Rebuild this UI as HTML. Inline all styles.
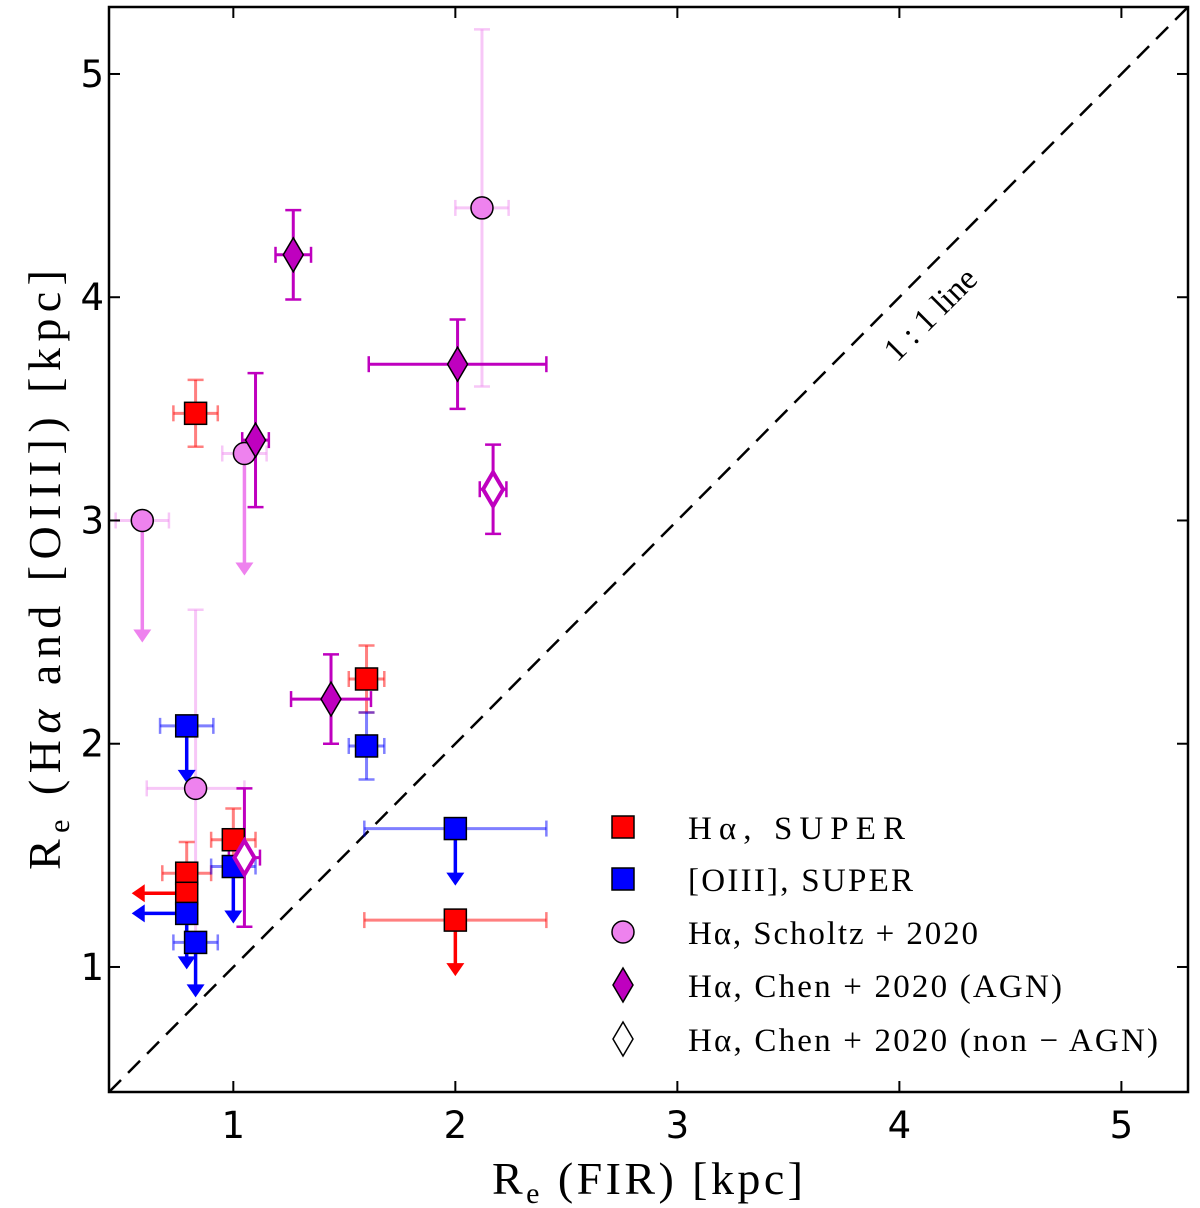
<!DOCTYPE html>
<html><head><meta charset="utf-8"><style>
body{margin:0;background:#fff}
svg{display:block}
.tk{font-family:"DejaVu Sans","Liberation Sans",sans-serif;font-size:37px;fill:#000}
.lb{font-family:"Liberation Serif","DejaVu Serif",serif;font-size:46px;fill:#000}
.lg{font-family:"Liberation Serif","DejaVu Serif",serif;font-size:33px;fill:#000}
</style></head><body>
<svg id="chart" width="1200" height="1208" viewBox="0 0 1200 1208" xmlns="http://www.w3.org/2000/svg">
<g id="plot"></g>
</svg>
<script>
// data arrays
const ticks = [1, 2, 3, 4, 5];
const tickLabels = ["1", "2", "3", "4", "5"];
// Halpha SUPER: x, y, xerr, yerr, xlim(left arrow), ylim(down arrow)
const redX =  [0.83, 1.60, 1.00, 0.79, 0.79, 2.00];
const redY =  [3.48, 2.29, 1.57, 1.42, 1.33, 1.21];
const redXe = [0.10, 0.08, 0.10, 0.11, 0,    0.41];
const redYe = [0.15, 0.15, 0.14, 0.14, 0,    0];
const redXl = [0, 0, 0, 0, 1, 0];
const redYl = [0, 0, 0, 0, 0, 1];
// [OIII] SUPER
const blueX =  [0.79, 1.60, 2.00, 1.00, 0.79, 0.83];
const blueY =  [2.08, 1.99, 1.62, 1.45, 1.24, 1.11];
const blueXe = [0.12, 0.08, 0.41, 0.10, 0,    0.10];
const blueYe = [0,    0.15, 0,    0,    0,    0];
const blueXl = [0, 0, 0, 0, 1, 0];
const blueYl = [1, 0, 1, 1, 1, 1];
// Scholtz+2020
const pinkX =  [0.59, 1.05, 2.12, 0.83];
const pinkY =  [3.00, 3.30, 4.40, 1.80];
const pinkXe = [0.12, 0.10, 0.12, 0.22];
const pinkYlo= [0,    0,    0.80, 0.65];
const pinkYhi= [0,    0,    0.80, 0.80];
const pinkYl = [1, 1, 0, 0];
// Chen+2020 AGN
const agnX =  [1.27, 2.01, 1.10, 1.44];
const agnY =  [4.19, 3.70, 3.36, 2.20];
const agnXe = [0.08, 0.40, 0.06, 0.18];
const agnYe = [0.20, 0.20, 0.30, 0.20];
// Chen+2020 non-AGN
const nonX =  [2.17, 1.05];
const nonY =  [3.14, 1.49];
const nonXe = [0.06, 0.07];
const nonYe = [0.20, 0.31];

const X0=109,X1=1188,Y0=1092,Y1=7, DMIN=0.44, DMAX=5.3;
function sx(v){return X0+(v-DMIN)/(DMAX-DMIN)*(X1-X0);}
function sy(v){return Y0-(v-DMIN)/(DMAX-DMIN)*(Y0-Y1);}
const NS="http://www.w3.org/2000/svg";
const root=document.getElementById('plot');
function mk(tag,attrs,parent){const e=document.createElementNS(NS,tag);for(const k in attrs)e.setAttribute(k,attrs[k]);(parent||root).appendChild(e);return e;}
function ln(x1,y1,x2,y2,c,w,op,name){
 const l=mk('line',{x1,y1,x2,y2,stroke:c,'stroke-width':w,'stroke-opacity':op});
 
 
 return l;}
function errx(x,y,e,c,op){if(!e)return;const a=sx(x-e),b=sx(x+e),py=sy(y);
 ln(a,py,b,py,c,3,op,'x-error-bar');ln(a,py-8,a,py+8,c,2.5,op,'x-error-cap');ln(b,py-8,b,py+8,c,2.5,op,'x-error-cap');}
function erry(x,lo,hi,c,op){const px=sx(x),a=sy(lo),b=sy(hi);
 ln(px,a,px,b,c,3,op,'y-error-bar');ln(px-8,a,px+8,a,c,2.5,op,'y-error-cap');ln(px-8,b,px+8,b,c,2.5,op,'y-error-cap');}
function arrowDown(x,y,len,c){const px=sx(x),py=sy(y);ln(px,py,px,py+len-12,c,3.5,1,'upper-limit-arrow');
 const t=mk('polygon',{points:`${px-9},${py+len-13} ${px+9},${py+len-13} ${px},${py+len}`,fill:c});
 
 }
function arrowLeft(x,y,len,c){const px=sx(x),py=sy(y);ln(px,py,px-len+12,py,c,3.5,1,'upper-limit-arrow');
 const t=mk('polygon',{points:`${px-len+13},${py-9} ${px-len+13},${py+9} ${px-len},${py}`,fill:c});
 
 }
function square(px,py,c,name){const r=mk('rect',{x:px-11,y:py-11,width:22,height:22,fill:c,stroke:'#000','stroke-width':1.5});
 
 }
function circle(px,py,name){const r=mk('circle',{cx:px,cy:py,r:11,fill:'#ee82ee',stroke:'#000','stroke-width':1.5});
 
 }
function diamond(px,py,fill,sw,stroke,name){const r=mk('polygon',{points:`${px},${py-17} ${px+10},${py} ${px},${py+17} ${px-10},${py}`,fill,stroke,'stroke-width':sw});
 
 }

// 1:1 line
const one=ln(sx(DMIN),sy(DMIN),sx(DMAX),sy(DMAX),'#000',2.5,1,'one-to-one-line');
one.setAttribute('stroke-dasharray','17,10');

pinkX.forEach((x,i)=>{errx(x,pinkY[i],pinkXe[i],'#ee82ee',0.45);
 if(pinkYhi[i])erry(x,pinkY[i]-pinkYlo[i],pinkY[i]+pinkYhi[i],'#ee82ee',0.45);
 if(pinkYl[i])arrowDown(x,pinkY[i],122,'#ee82ee');});
redX.forEach((x,i)=>{errx(x,redY[i],redXe[i],'#ff0000',0.5);
 if(redYe[i])erry(x,redY[i]-redYe[i],redY[i]+redYe[i],'#ff0000',0.5);
 if(redXl[i])arrowLeft(x,redY[i],55,'#ff0000');
 if(redYl[i])arrowDown(x,redY[i],56,'#ff0000');});
blueX.forEach((x,i)=>{errx(x,blueY[i],blueXe[i],'#0000ff',0.5);
 if(blueYe[i])erry(x,blueY[i]-blueYe[i],blueY[i]+blueYe[i],'#0000ff',0.5);
 if(blueXl[i])arrowLeft(x,blueY[i],55,'#0000ff');
 if(blueYl[i])arrowDown(x,blueY[i],i==4?56:i==5?55:57,'#0000ff');});
agnX.forEach((x,i)=>{errx(x,agnY[i],agnXe[i],'#bf00bf',1);erry(x,agnY[i]-agnYe[i],agnY[i]+agnYe[i],'#bf00bf',1);});
nonX.forEach((x,i)=>{errx(x,nonY[i],nonXe[i],'#bf00bf',1);erry(x,nonY[i]-nonYe[i],nonY[i]+nonYe[i],'#bf00bf',1);});
pinkX.forEach((x,i)=>circle(sx(x),sy(pinkY[i]),'scholtz-point'));
redX.forEach((x,i)=>square(sx(x),sy(redY[i]),'#ff0000','halpha-super-point'));
blueX.forEach((x,i)=>square(sx(x),sy(blueY[i]),'#0000ff','oiii-super-point'));
agnX.forEach((x,i)=>diamond(sx(x),sy(agnY[i]),'#bf00bf',1.5,'#000','chen-agn-point'));
nonX.forEach((x,i)=>diamond(sx(x),sy(nonY[i]),'#fff',4,'#bf00bf','chen-non-agn-point'));

const fr=mk('rect',{x:X0,y:Y1,width:X1-X0,height:Y0-Y1,fill:'none',stroke:'#000','stroke-width':2.5});


ticks.forEach((t,i)=>{
 const px=sx(t),py=sy(t);
 ln(px,Y0,px,Y0-11,'#000',2,1,'x-tick');ln(px,Y1,px,Y1+11,'#000',2,1,'x-tick');
 ln(X0,py,X0+11,py,'#000',2,1,'y-tick');ln(X1,py,X1-11,py,'#000',2,1,'y-tick');
 const a=mk('text',{x:px,y:1138,'text-anchor':'middle',class:'tk'});a.textContent=tickLabels[i];
 
 
 const b=mk('text',{x:104,y:py+13,'text-anchor':'end',class:'tk'});b.textContent=tickLabels[i];
 
 
});
const xl=mk('text',{x:492,y:1194,class:'lb',textLength:311,lengthAdjust:'spacing'});
xl.innerHTML='R<tspan dy="9" font-size="30">e</tspan><tspan dy="-9"> (FIR) [kpc]</tspan>';


const yl=mk('text',{x:0,y:0,class:'lb',textLength:600,lengthAdjust:'spacing',transform:'translate(60,870) rotate(-90)'});
yl.innerHTML='R<tspan dy="9" font-size="30">e</tspan><tspan dy="-9"> (H<tspan font-style="italic">α</tspan> and [OIII]) [kpc]</tspan>';


const ol=mk('text',{x:0,y:0,'text-anchor':'middle',class:'lg',transform:'translate(938,322) rotate(-45)','font-size':'35'});
ol.textContent='1 : 1 line';



const lgY=[827,879,932,985,1039];
const lgT=['Hα,  SUPER','[OIII],  SUPER','Hα,  Scholtz + 2020','Hα,  Chen + 2020 (AGN)','Hα,  Chen + 2020 (non − AGN)'];
const lgW=[217,225,290,374,470];
const lgG=mk('g',{});


square(623,lgY[0],'#ff0000','legend-marker-halpha-super');
square(623,lgY[1],'#0000ff','legend-marker-oiii-super');
circle(623,lgY[2],'legend-marker-scholtz');
diamond(623,lgY[3],'#bf00bf',1.5,'#000','legend-marker-chen-agn');
diamond(623,lgY[4],'#fff',1.5,'#000','legend-marker-chen-non-agn');
lgT.forEach((t,i)=>{const e=mk('text',{x:688,y:lgY[i]+12,class:'lg',textLength:lgW[i],lengthAdjust:'spacing'},lgG);e.textContent=t;
 
 });
</script>
</body></html>
